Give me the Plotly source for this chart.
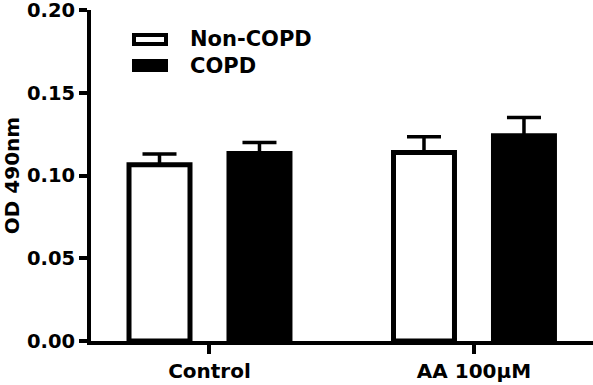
import plotly.graph_objects as go

categories = ["Control", "AA 100\u03bcM"]
series_names = ["Non-COPD", "COPD"]
non_copd_mean = [0.1065, 0.1139]
non_copd_err = [0.0065, 0.0095]
copd_mean = [0.1133, 0.1240]
copd_err = [0.0066, 0.0110]
y_ticks = [0.00, 0.05, 0.10, 0.15, 0.20]
y_tick_labels = ["0.00", "0.05", "0.10", "0.15", "0.20"]

W, H = 593, 385
ML, MR, MT, MB = 91, 0, 10, 44
PW, PH = W - ML - MR, H - MT - MB

FONT = "DejaVu Sans"
BLACK = "#000000"


def px_x(px):
    return (px - ML) / PW


def px_y(py):
    return (H - MB - py) / PH


fig = go.Figure()
fills = ["#ffffff", BLACK]
means = [non_copd_mean, copd_mean]
errs = [non_copd_err, copd_err]
for name, fill, m, e in zip(series_names, fills, means, errs):
    fig.add_trace(go.Bar(
        x=categories, y=m, name=name,
        marker=dict(color=fill, line=dict(color=BLACK, width=5)),
        error_y=dict(type="data", array=e, arrayminus=[0] * len(e),
                     symmetric=False, color=BLACK, thickness=3.5, width=17),
        showlegend=False,
    ))

# custom legend (wide boxes like the original)
legend_rows = [39.5, 65.5]
for name, fill, cy in zip(series_names, fills, legend_rows):
    fig.add_shape(type="rect", xref="paper", yref="paper",
                  x0=px_x(134), x1=px_x(166), y0=px_y(cy - 4.5), y1=px_y(cy + 4.5),
                  fillcolor=fill, line=dict(color=BLACK, width=4))
    fig.add_annotation(text=name, xref="paper", yref="paper",
                       x=px_x(188), y=px_y(cy), xanchor="left", yanchor="middle",
                       showarrow=False,
                       font=dict(family=FONT, size=21, color=BLACK, weight="bold"))

fig.update_layout(
    width=W, height=H,
    margin=dict(l=ML, r=MR, t=MT, b=MB, pad=0),
    paper_bgcolor="white", plot_bgcolor="white",
    barmode="group", bargap=0.244, bargroupgap=0.39,
    showlegend=False,
    font=dict(family=FONT, color=BLACK),
)
fig.update_xaxes(
    type="category", range=[-0.448, 1.45],
    showline=True, linecolor=BLACK, linewidth=4,
    ticks="outside", ticklen=9, tickwidth=3.5, tickcolor=BLACK,
    tickfont=dict(family=FONT, size=20, color=BLACK, weight="bold"),
    ticklabeloverflow="allow",
    showgrid=False, zeroline=False,
)
fig.update_yaxes(
    range=[0, 0.20], tickvals=y_ticks, ticktext=y_tick_labels,
    showline=True, linecolor=BLACK, linewidth=4,
    ticks="outside", ticklen=8, tickwidth=3.5, tickcolor=BLACK,
    tickfont=dict(family=FONT, size=19.5, color=BLACK, weight="bold"),
    ticklabeloverflow="allow",
    title=dict(text="OD 490nm", standoff=9,
               font=dict(family=FONT, size=20, color=BLACK, weight="bold")),
    showgrid=False, zeroline=False,
)

fig.write_html(
    "out.html",
    config={"displayModeBar": False},
    post_script="document.body.style.margin='0';document.body.style.overflow='hidden';",
)
